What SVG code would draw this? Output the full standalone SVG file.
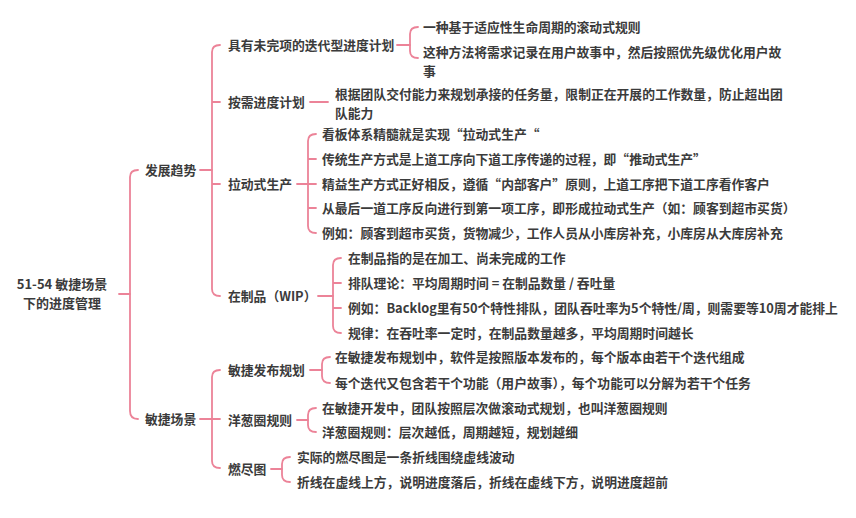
<svg xmlns="http://www.w3.org/2000/svg" width="856" height="518" viewBox="0 0 856 518">
<style>
text{font-family:"Noto Sans CJK SC","Noto Sans",sans-serif;font-size:12.8px;font-weight:700;fill:#3b3b3b}
.root{font-size:13px;text-anchor:middle}
.c{fill:none;stroke:#ec8398;stroke-width:1.8;stroke-linecap:round}
</style>
<rect width="856" height="518" fill="#ffffff"/>
<g id="connectors">
<path class="c" d="M119,294 H130"/>
<path class="c" d="M138,170 Q130,170 130,177 V411 Q130,419 138,419"/>
<path class="c" d="M200,170 H212"/>
<path class="c" d="M220,45 Q212,45 212,52 V289 Q212,296 220,296 M212,102 H220 M212,184 H220"/>
<path class="c" d="M200,419 H212"/>
<path class="c" d="M220,370 Q212,370 212,377 V461 Q212,468 220,468 M212,419 H220"/>
<path class="c" d="M397,45 H410"/>
<path class="c" d="M418,27 Q410,27 410,34 V51 Q410,58 418,58"/>
<path class="c" d="M310,102 H328"/>
<path class="c" d="M297,184 H316"/>
<path class="c" d="M316,134 Q308,134 308,141 V226 Q308,233 316,233 M308,159 H316 M308,208 H316"/>
<path class="c" d="M318,296 H333"/>
<path class="c" d="M341,258 Q333,258 333,265 V326 Q333,333 341,333 M333,283 H341 M333,308 H341"/>
<path class="c" d="M310,370 H322"/>
<path class="c" d="M330,357 Q322,357 322,364 V376 Q322,383 330,383"/>
<path class="c" d="M297,420 H308"/>
<path class="c" d="M316,408 Q308,408 308,415 V425 Q308,432 316,432"/>
<path class="c" d="M271,469 H282"/>
<path class="c" d="M290,457 Q282,457 282,464 V475 Q282,482 290,482"/>
</g>
<g id="root"><text class="root" x="62" y="289">51-54 敏捷场景<tspan x="62" dy="19">下的进度管理</tspan></text></g>
<g id="n-fzqs"><text x="145" y="175">发展趋势</text></g>
<g id="n-mjcj"><text x="145" y="424">敏捷场景</text></g>
<g id="n-jywwx"><text x="228" y="50">具有未完项的迭代型进度计划</text></g>
<g id="n-jywwx-1"><text x="423" y="32">一种基于适应性生命周期的滚动式规则</text></g>
<g id="n-jywwx-2"><text x="423" y="57">这种方法将需求记录在用户故事中，然后按照优先级优化用户故<tspan x="423" dy="18.6">事</tspan></text></g>
<g id="n-axjd"><text x="228" y="107">按需进度计划</text></g>
<g id="n-axjd-1"><text x="335" y="99">根据团队交付能力来规划承接的任务量，限制正在开展的工作数量，防止超出团<tspan x="335" dy="18.6">队能力</tspan></text></g>
<g id="n-ldsc"><text x="228" y="189">拉动式生产</text></g>
<g id="n-ldsc-1"><text x="322" y="139">看板体系精髓就是实现“拉动式生产“</text></g>
<g id="n-ldsc-2"><text x="322" y="164">传统生产方式是上道工序向下道工序传递的过程，即“推动式生产”</text></g>
<g id="n-ldsc-3"><text x="322" y="189">精益生产方式正好相反，遵循“内部客户”原则，上道工序把下道工序看作客户</text></g>
<g id="n-ldsc-4"><text x="322" y="213">从最后一道工序反向进行到第一项工序，即形成拉动式生产（如：顾客到超市买货）</text></g>
<g id="n-ldsc-5"><text x="322" y="238">例如：顾客到超市买货，货物减少，工作人员从小库房补充，小库房从大库房补充</text></g>
<g id="n-wip"><text x="228" y="301">在制品（WIP）</text></g>
<g id="n-wip-1"><text x="348" y="263">在制品指的是在加工、尚未完成的工作</text></g>
<g id="n-wip-2"><text x="348" y="288">排队理论：平均周期时间 = 在制品数量 / 吞吐量</text></g>
<g id="n-wip-3"><text x="348" y="313">例如：Backlog里有50个特性排队，团队吞吐率为5个特性/周，则需要等10周才能排上</text></g>
<g id="n-wip-4"><text x="348" y="338">规律：在吞吐率一定时，在制品数量越多，平均周期时间越长</text></g>
<g id="n-mjfb"><text x="228" y="375">敏捷发布规划</text></g>
<g id="n-mjfb-1"><text x="335" y="362">在敏捷发布规划中，软件是按照版本发布的，每个版本由若干个迭代组成</text></g>
<g id="n-mjfb-2"><text x="335" y="388">每个迭代又包含若干个功能（用户故事），每个功能可以分解为若干个任务</text></g>
<g id="n-ycq"><text x="228" y="425">洋葱圈规则</text></g>
<g id="n-ycq-1"><text x="322" y="413">在敏捷开发中，团队按照层次做滚动式规划，也叫洋葱圈规则</text></g>
<g id="n-ycq-2"><text x="322" y="437">洋葱圈规则：层次越低，周期越短，规划越细</text></g>
<g id="n-rjt"><text x="228" y="474">燃尽图</text></g>
<g id="n-rjt-1"><text x="297" y="462">实际的燃尽图是一条折线围绕虚线波动</text></g>
<g id="n-rjt-2"><text x="297" y="487">折线在虚线上方，说明进度落后，折线在虚线下方，说明进度超前</text></g>
</svg>
